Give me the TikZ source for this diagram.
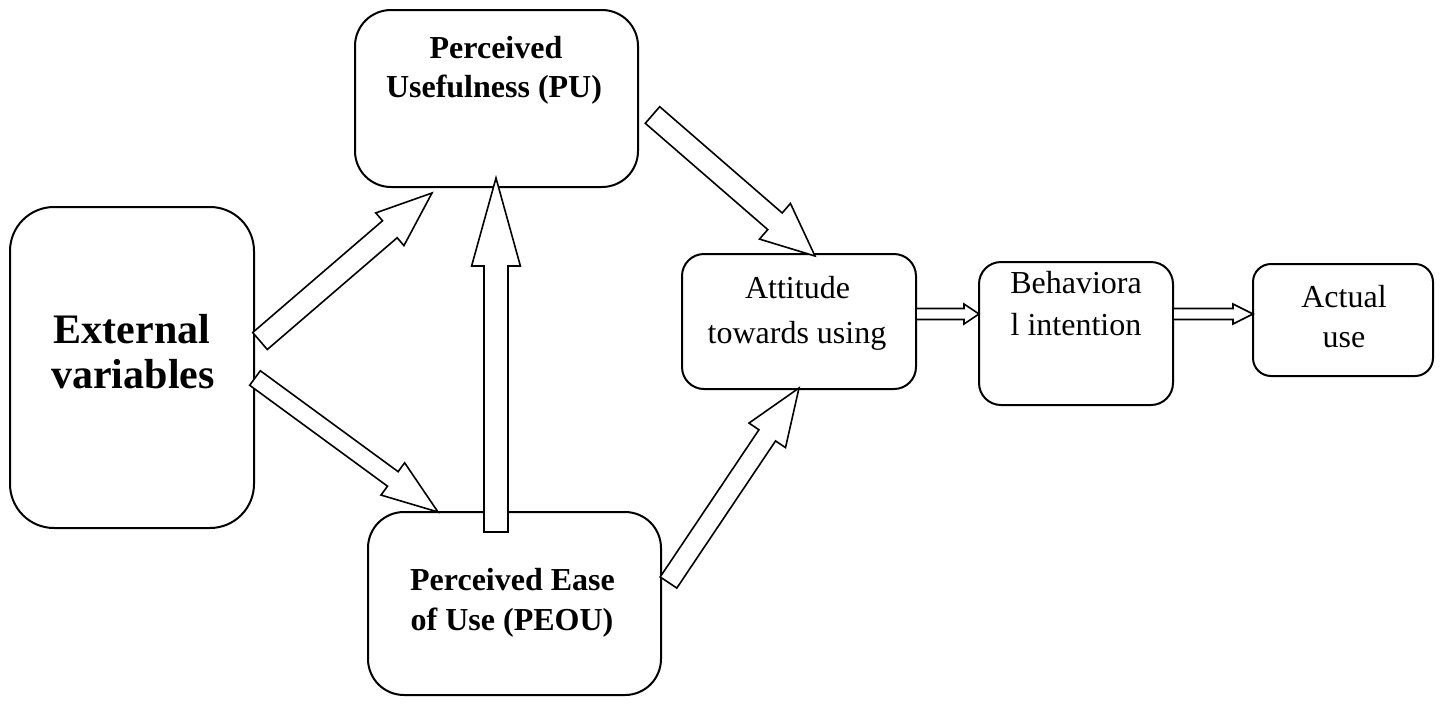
\documentclass[tikz,border=0pt]{standalone}
\usepackage{fontspec}
\setmainfont{Liberation Serif}
\usetikzlibrary{calc}
\tikzset{
  box/.style={draw, line width=1pt, inner sep=0pt, outer sep=0pt},
  barrow/.style={draw, line width=0.8pt, fill=white, line join=miter},
  txt/.style={anchor=base, inner sep=0pt, font=\fontsize{16}{22}\selectfont},
  btxt/.style={txt, font=\fontsize{16}{22}\selectfont\bfseries},
  bigtxt/.style={txt, font=\fontsize{21}{28}\selectfont\bfseries}
}
% #1 tail, #2 tip, #3 half shaft width, #4 half head width, #5 head length
\newcommand\blockarrow[5]{%
  \coordinate (bh) at ($(#2)!#5!(#1)$);
  \draw[barrow] ($(#1)!#3!90:(#2)$) -- ($(bh)!#3!90:(#2)$) -- ($(bh)!#4!90:(#2)$)
    -- (#2) -- ($(bh)!#4!-90:(#2)$) -- ($(bh)!#3!-90:(#2)$) -- ($(#1)!#3!-90:(#2)$) -- cycle;
}
\begin{document}
\begin{tikzpicture}[x=0.5pt, y=-0.5pt]
\useasboundingbox (0,0) rectangle (1442,703);

% boxes
\node[box, rounded corners=22pt, minimum width=122pt, minimum height=160.5pt] (ext) at (132,367.5) {};
\node[box, rounded corners=18pt, minimum width=141.5pt, minimum height=88.5pt] (pu) at (496.5,98.5) {};
\node[box, rounded corners=18pt, minimum width=146.5pt, minimum height=91.5pt] (peou) at (514.5,603.5) {};
\node[box, rounded corners=11pt, minimum width=117pt, minimum height=67.5pt] (att) at (799,321.5) {};
\node[box, rounded corners=11pt, minimum width=97pt, minimum height=71.5pt] (beh) at (1076,333.5) {};
\node[box, rounded corners=9pt, minimum width=90pt, minimum height=56pt] (act) at (1343,320) {};

% texts
\node[bigtxt] (ext1) at (132,343) {External};
\node[bigtxt] (ext2) at (133,388) {variables};
\node[btxt] (pu1) at (496,58) {Perceived};
\node[btxt] (pu2) at (494,97) {Usefulness (PU)};
\node[btxt] (peou1) at (512.5,590) {Perceived Ease};
\node[btxt] (peou2) at (512,630) {of Use (PEOU)};
\node[txt] (att1) at (797.5,298) {Attitude};
\node[txt] (att2) at (797,343) {towards using};
\node[txt] (beh1) at (1076,293) {Behaviora};
\node[txt] (beh2) at (1076,335) {l intention};
\node[txt] (act1) at (1344,307) {Actual};
\node[txt] (act2) at (1344,347) {use};

% arrow end points
\coordinate (a1s) at (260,341);   \coordinate (a1e) at (432,193);
\coordinate (a2s) at (255,378);   \coordinate (a2e) at (438,512);
\coordinate (a3s) at (496,532);   \coordinate (a3e) at (496,178);
\coordinate (a4s) at (652.5,115); \coordinate (a4e) at (815,256);
\coordinate (a5s) at (668.5,582.5); \coordinate (a5e) at (799,388);
\coordinate (a6s) at (att.east |- 0,314); \coordinate (a6e) at (beh.west |- 0,314);
\coordinate (a7s) at (beh.east |- 0,314); \coordinate (a7e) at (act.west |- 0,314);

\blockarrow{a1s}{a1e}{5.6pt}{10.8pt}{27.8pt}
\blockarrow{a2s}{a2e}{4.5pt}{10pt}{28pt}
\blockarrow{a3s}{a3e}{6pt}{12.2pt}{44pt}
\blockarrow{a4s}{a4e}{5.5pt}{11.8pt}{26.5pt}
\blockarrow{a5s}{a5e}{5pt}{11pt}{28.5pt}
\blockarrow{a6s}{a6e}{2.75pt}{5pt}{7.5pt}
\blockarrow{a7s}{a7e}{2.75pt}{5pt}{10pt}
\end{tikzpicture}
\end{document}
